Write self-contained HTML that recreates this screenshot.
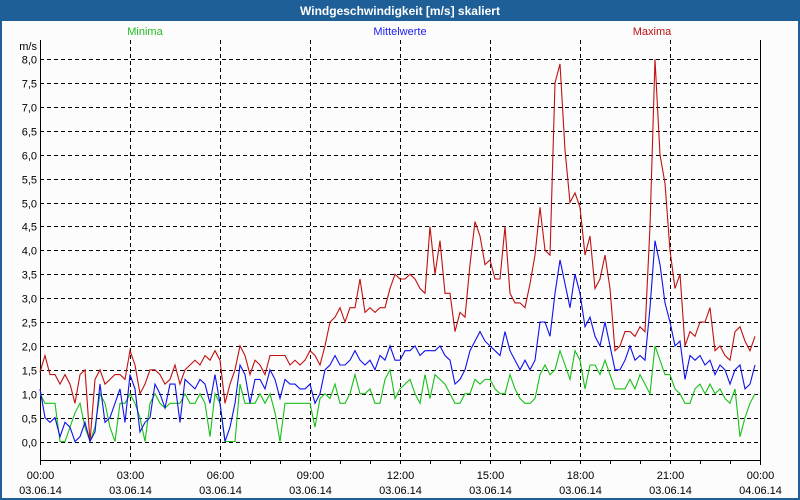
<!DOCTYPE html>
<html><head><meta charset="utf-8"><style>
html,body{margin:0;padding:0;width:800px;height:500px;overflow:hidden;background:#fff}
svg{display:block;font-family:"Liberation Sans","DejaVu Sans",sans-serif}
</style></head><body>
<svg id="chart" width="800" height="500" viewBox="0 0 800 500">
<rect x="0" y="0" width="800" height="500" fill="#1f5f97"/>
<rect x="2" y="21" width="796" height="477" fill="#fcfcfc"/>
<text x="400" y="15" text-anchor="middle" fill="#fff" font-size="12" font-weight="bold">Windgeschwindigkeit [m/s] skaliert</text>
<text x="145" y="35" text-anchor="middle" fill="#22bb22" font-size="11">Minima</text>
<text x="400" y="35" text-anchor="middle" fill="#2020ee" font-size="11">Mittelwerte</text>
<text x="652" y="35" text-anchor="middle" fill="#bb1111" font-size="11">Maxima</text>
<text x="37" y="50" text-anchor="end" fill="#000" font-size="11">m/s</text>
<g id="grid"></g><g id="axes"></g><g id="series"></g>
</svg>
<script>
const yTicks = [0,0.5,1,1.5,2,2.5,3,3.5,4,4.5,5,5.5,6,6.5,7,7.5,8];
const xTickTimes = ["00:00","03:00","06:00","09:00","12:00","15:00","18:00","21:00","00:00"];
const xTickDates = ["03.06.14","03.06.14","03.06.14","03.06.14","03.06.14","03.06.14","03.06.14","03.06.14","04.06.14"];
const maxima = [1.45,1.8,1.4,1.4,1.2,1.4,1.2,0.8,1.4,1.5,
0.0,1.3,1.5,1.2,1.3,1.4,1.4,1.3,1.9,1.6,
1.0,1.2,1.5,1.5,1.4,1.2,1.3,1.6,1.2,1.5,
1.6,1.7,1.6,1.8,1.7,1.9,1.7,0.8,1.2,1.5,
2.0,1.8,1.4,1.7,1.6,1.4,1.8,1.8,1.8,1.8,
1.6,1.7,1.6,1.7,1.9,1.8,1.6,2.0,2.5,2.6,
2.8,2.5,2.8,2.8,3.4,2.7,2.8,2.7,2.8,2.8,
3.2,3.5,3.4,3.4,3.5,3.4,3.2,3.1,4.5,3.5,
4.2,3.1,3.1,2.3,2.7,2.6,3.7,4.6,4.3,3.7,
3.8,3.4,3.4,4.5,3.1,2.9,2.9,2.8,3.3,3.9,
4.9,4.0,3.9,7.5,7.9,6.1,5.0,5.2,4.9,3.9,
4.3,3.2,3.4,3.9,3.2,1.9,2.0,2.3,2.3,2.2,
2.4,2.3,4.5,8.0,6.0,5.4,4.0,3.2,3.5,2.0,
2.3,2.2,2.5,2.5,2.8,1.9,2.0,1.8,1.7,2.3,
2.4,2.1,1.9,2.2];
const mittel = [1.1,0.5,0.4,0.5,0.1,0.4,0.3,0.0,0.1,0.4,
0.0,0.2,1.2,0.4,0.5,0.8,1.1,0.4,1.4,1.1,
0.2,0.4,0.5,1.2,1.0,0.7,1.2,1.2,0.4,1.3,
1.2,1.1,1.3,1.2,0.8,1.4,0.8,0.0,0.3,0.8,
1.6,1.4,0.8,1.3,1.3,1.1,1.5,1.3,0.9,1.3,
1.2,1.2,1.1,1.1,1.2,0.8,1.0,1.5,1.6,1.8,
1.6,1.6,1.7,1.9,1.7,1.6,1.7,1.5,1.8,1.7,
2.0,1.7,1.7,1.9,1.9,2.0,1.8,1.9,1.9,1.9,
2.0,1.8,1.7,1.2,1.3,1.5,1.9,2.1,2.3,2.1,
2.0,1.9,1.8,2.3,1.9,1.7,1.5,1.7,1.5,1.7,
2.5,2.5,2.2,3.1,3.8,3.3,2.8,3.5,3.1,2.4,
2.6,2.2,2.0,2.5,2.0,1.5,1.5,1.7,2.0,1.7,
1.8,1.7,2.8,4.2,3.7,2.9,2.5,2.0,2.1,1.3,
1.8,1.7,1.8,1.6,1.7,1.4,1.6,1.5,1.2,1.5,
1.6,1.1,1.2,1.6];
const minima = [1.0,0.8,0.8,0.8,0.0,0.0,0.3,0.6,0.8,0.3,
0.0,0.3,1.0,0.8,0.3,0.0,0.8,0.8,1.0,0.8,
0.5,0.0,0.8,1.0,0.8,0.7,0.8,0.8,0.8,1.0,
0.8,0.8,1.0,0.8,0.1,1.0,0.8,0.0,0.0,0.0,
1.2,0.8,0.8,0.8,1.0,0.8,1.0,0.6,0.0,0.8,
0.8,0.8,0.8,0.8,0.8,0.3,0.9,1.0,0.9,1.2,
0.8,0.8,1.0,1.4,1.0,1.0,1.1,0.8,0.8,1.3,
1.5,0.9,1.1,1.2,1.3,1.0,0.8,1.4,0.9,1.4,
1.3,1.2,1.0,0.8,0.8,1.0,1.0,1.3,1.2,1.3,
1.3,1.1,1.0,1.0,1.4,1.1,0.9,0.8,0.8,0.9,
1.4,1.6,1.4,1.5,1.9,1.6,1.3,1.9,1.7,1.1,
1.6,1.6,1.4,1.7,1.4,1.1,1.1,1.1,1.3,1.1,
1.4,1.2,1.0,2.0,1.7,1.4,1.4,1.1,1.0,0.8,
0.8,1.1,1.2,1.0,1.2,1.0,1.1,0.9,0.8,1.1,
0.1,0.5,0.8,1.0];

const NS = "http://www.w3.org/2000/svg";
const X0 = 40, X1 = 760, Y0 = 441.5, PXU = 47.8, TOP = 40, BOT = 460, STEPS = 144;
function xIdx(i){ return X0 + (X1 - X0) * i / STEPS; }
function yVal(v){ return Y0 - v * PXU; }
function mk(tag, attrs, parent){ const e = document.createElementNS(NS, tag); for (const k in attrs) e.setAttribute(k, attrs[k]); parent.appendChild(e); return e; }
const grid = document.getElementById('grid'), axes = document.getElementById('axes'), series = document.getElementById('series');

yTicks.forEach(function(v){
  const y = Math.round(yVal(v)) + 0.5;
  const l = mk('line', {x1: X0, x2: X1, y1: y, y2: y, stroke: '#000', 'stroke-width': 1, 'stroke-dasharray': '4,3'}, grid);
  
  
  const t = mk('text', {x: 37, y: y + 4, 'text-anchor': 'end', 'font-size': 11, fill: '#000'}, axes);
  t.textContent = v.toFixed(1).replace('.', ',');
  
  
});
xTickTimes.forEach(function(lbl, k){
  const x = Math.round(X0 + (X1 - X0) * k / (xTickTimes.length - 1)) + 0.5;
  if (k > 0 && k < xTickTimes.length - 1) {
    const l = mk('line', {x1: x, x2: x, y1: TOP, y2: BOT + 5, stroke: '#000', 'stroke-width': 1, 'stroke-dasharray': '4,3'}, grid);
    
    
  }
  const t = mk('text', {x: x, y: 479, 'text-anchor': 'middle', 'font-size': 11, fill: '#000'}, axes);
  t.textContent = lbl;
  
  
  const d = mk('text', {x: x, y: 494, 'text-anchor': 'middle', 'font-size': 11, fill: '#000'}, axes);
  d.textContent = xTickDates[k];
  
  
});
for (let h = 0; h <= 24; h++) {
  const x = Math.round(X0 + (X1 - X0) * h / 24) + 0.5;
  const tk = mk('line', {x1: x, x2: x, y1: BOT, y2: BOT + 4, stroke: '#000', 'stroke-width': 1}, axes);
  
  
}
const la = mk('line', {x1: 40.5, x2: 40.5, y1: TOP, y2: BOT + 5, stroke: '#000', 'stroke-width': 1}, axes);


const ra = mk('line', {x1: 760.5, x2: 760.5, y1: TOP, y2: BOT + 5, stroke: '#000', 'stroke-width': 1}, axes);


const ba = mk('line', {x1: X0, x2: X1 + 1, y1: BOT + 0.5, y2: BOT + 0.5, stroke: '#000', 'stroke-width': 1}, axes);



function drawSeries(vals, color, name){
  const pts = vals.map(function(v, i){ return xIdx(i).toFixed(1) + ',' + yVal(v).toFixed(1); }).join(' ');
  const p = mk('polyline', {points: pts, fill: 'none', stroke: color, 'stroke-width': 1.1, 'stroke-linejoin': 'miter'}, series);
  
  
}
drawSeries(minima, '#18c018', 'series-minima');
drawSeries(maxima, '#c01010', 'series-maxima');
drawSeries(mittel, '#1010ee', 'series-mittelwerte');
</script>
</body></html>
